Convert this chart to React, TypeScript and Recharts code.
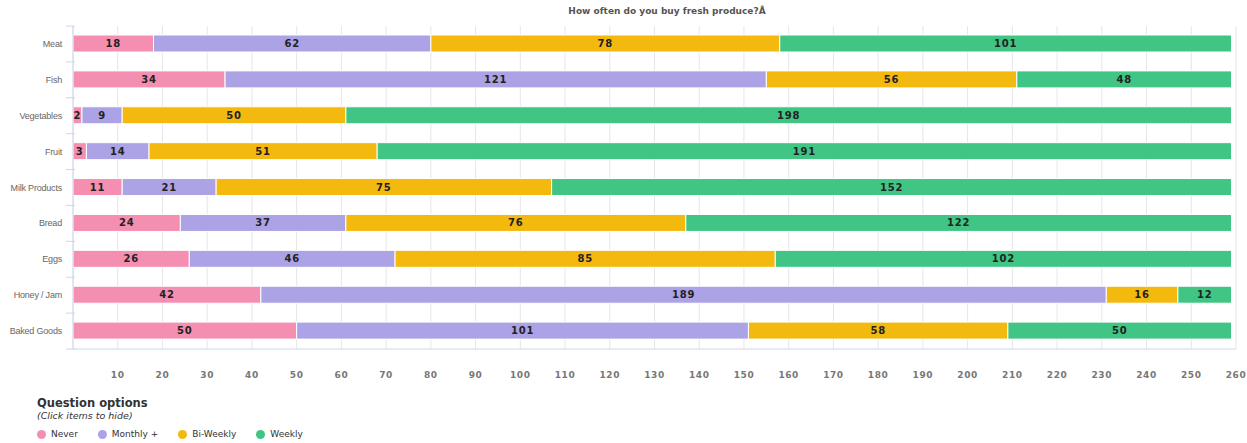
import { BarChart, Bar, XAxis, YAxis, CartesianGrid, LabelList } from "recharts";

const categories = ["Meat", "Fish", "Vegetables", "Fruit", "Milk Products", "Bread", "Eggs", "Honey / Jam", "Baked Goods"];
const never = [18, 34, 2, 3, 11, 24, 26, 42, 50];
const monthly = [62, 121, 9, 14, 21, 37, 46, 189, 101];
const biWeekly = [78, 56, 50, 51, 75, 76, 85, 16, 58];
const weekly = [101, 48, 198, 191, 152, 122, 102, 12, 50];
const xTicks = [0, 10, 20, 30, 40, 50, 60, 70, 80, 90, 100, 110, 120, 130, 140, 150, 160, 170, 180, 190, 200, 210, 220, 230, 240, 250, 260];

const series = [
  { key: "never", name: "Never", color: "#f48fb1" },
  { key: "monthly", name: "Monthly +", color: "#aba3e6" },
  { key: "biWeekly", name: "Bi-Weekly", color: "#f3b90f" },
  { key: "weekly", name: "Weekly", color: "#40c584" },
];

const data = categories.map((c, i) => ({
  name: c,
  never: never[i],
  monthly: monthly[i],
  biWeekly: biWeekly[i],
  weekly: weekly[i],
}));

const FONT = "'DejaVu Sans', Verdana, sans-serif";
const AXIS_COLOR = "#ccd6eb";
const HALF_BAND = 323 / categories.length / 2;

const XTick = (props: any) => {
  const { x, y, payload } = props;
  if (payload.value === 0) return null;
  return (
    <text x={x} y={y + 21} textAnchor="middle" fontFamily={FONT} fontSize={9} fontWeight="bold" fill="#777" letterSpacing={0.6}>
      {payload.value}
    </text>
  );
};

const YTick = (props: any) => {
  const { x, y, payload, index } = props;
  return (
    <g>
      <line x1={x + 1} x2={x + 10} y1={y - HALF_BAND} y2={y - HALF_BAND} stroke={AXIS_COLOR} />
      {index === categories.length - 1 && (
        <line x1={x + 1} x2={x + 10} y1={y + HALF_BAND} y2={y + HALF_BAND} stroke={AXIS_COLOR} />
      )}
      <text x={x - 3} y={y + 3} textAnchor="end" fontFamily="'Liberation Sans', Arial, sans-serif" fontSize={9} fill="#666" letterSpacing={-0.2}>
        {payload.value}
      </text>
    </g>
  );
};

const LegendBox = () => (
  <div style={{ position: "absolute", left: 37, top: 397, fontFamily: FONT, color: "#333" }}>
    <div style={{ fontWeight: "bold", fontSize: 11.5, lineHeight: "13px" }}>Question options</div>
    <div style={{ fontStyle: "italic", fontSize: 9.5, lineHeight: "12px" }}>(Click items to hide)</div>
    <div style={{ display: "flex", marginTop: 7, fontSize: 9 }}>
      {series.map((s) => (
        <div key={s.key} style={{ display: "flex", alignItems: "center", marginRight: 20 }}>
          <span style={{ display: "inline-block", width: 9, height: 9, borderRadius: "50%", background: s.color, marginRight: 5 }} />
          <span>{s.name}</span>
        </div>
      ))}
    </div>
  </div>
);

export default function App() {
  return (
    <div style={{ position: "absolute", left: 0, top: 0, width: 1247, height: 443, background: "#fff", overflow: "hidden" }}>
      <div
        style={{
          position: "absolute",
          left: 0,
          width: 1334,
          top: 6,
          textAlign: "center",
          fontFamily: FONT,
          fontSize: 9,
          fontWeight: "bold",
          color: "#555",
        }}
      >
        How often do you buy fresh produce?Â
      </div>
      <BarChart
        width={1247}
        height={443}
        data={data}
        layout="vertical"
        margin={{ top: 26, right: 11, bottom: 64, left: 0 }}
        barSize={17}
      >
        <CartesianGrid horizontal={false} stroke="#e6e6e6" />
        <XAxis
          type="number"
          domain={[0, 260]}
          ticks={xTicks}
          interval={0}
          tick={<XTick />}
          tickLine={false}
          axisLine={{ stroke: AXIS_COLOR }}
          height={30}
        />
        <YAxis
          type="category"
          dataKey="name"
          width={73}
          tick={<YTick />}
          tickLine={false}
          axisLine={{ stroke: AXIS_COLOR }}
          interval={0}
        />
        {series.map((s) => (
          <Bar key={s.key} dataKey={s.key} name={s.name} stackId="a" fill={s.color} stroke="#fff" strokeWidth={1} isAnimationActive={false}>
            <LabelList
              dataKey={s.key}
              position="center"
              fill="#222"
              fontFamily={FONT}
              fontSize={10}
              fontWeight="bold"
              letterSpacing={0.8}
            />
          </Bar>
        ))}
      </BarChart>
      <LegendBox />
    </div>
  );
}
